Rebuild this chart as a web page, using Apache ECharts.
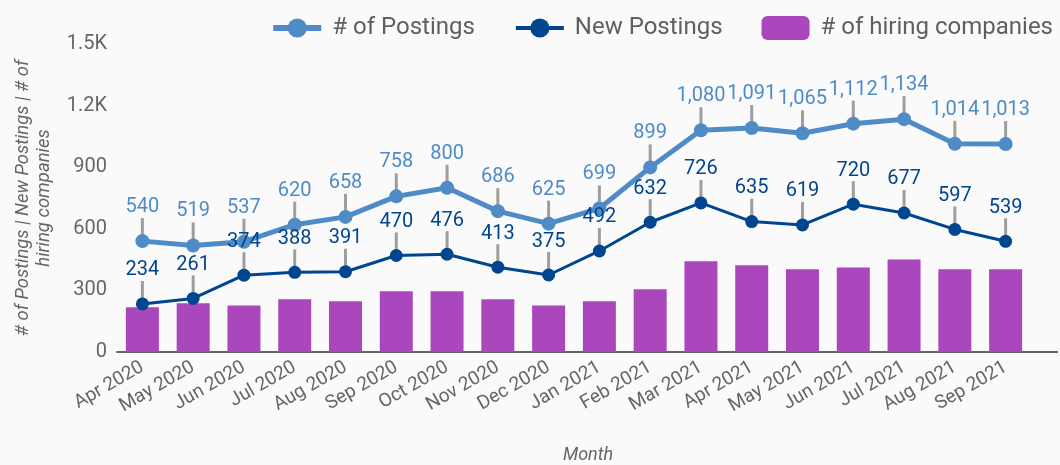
<!DOCTYPE html>
<html>
<head>
<meta charset="utf-8">
<script src="https://cdn.jsdelivr.net/npm/echarts@6/dist/echarts.min.js"></script>
<style>
  html, body { margin: 0; padding: 0; background: #fafafa; }
  #chart { width: 1060px; height: 465px; }
</style>
</head>
<body>
<div id="chart"></div>
<script>
// data
var months = ['Apr 2020', 'May 2020', 'Jun 2020', 'Jul 2020', 'Aug 2020', 'Sep 2020', 'Oct 2020',
  'Nov 2020', 'Dec 2020', 'Jan 2021', 'Feb 2021', 'Mar 2021', 'Apr 2021', 'May 2021', 'Jun 2021',
  'Jul 2021', 'Aug 2021', 'Sep 2021'];
var postings = [540, 519, 537, 620, 658, 758, 800, 686, 625, 699, 899, 1080, 1091, 1065, 1112, 1134, 1014, 1013];
var newPostings = [234, 261, 374, 388, 391, 470, 476, 413, 375, 492, 632, 726, 635, 619, 720, 677, 597, 539];
var hiringCompanies = [218, 237, 227, 257, 247, 296, 296, 257, 227, 247, 305, 442, 422, 403, 412, 451, 403, 403];
var yTickLabels = ['0', '300', '600', '900', '1.2K', '1.5K'];

var lightBlue = '#4f8bc6';
var navy = '#00458f';
var purple = '#ab47bc';
var grey = '#666666';

var myChart = echarts.init(document.getElementById('chart'));

// short grey stem from each point up to its label
function stems(values) {
  return values.map(function (v, i) { return [i, v]; });
}
function stemItem(params, api) {
  var p = api.coord([api.value(0), api.value(1)]);
  return {
    type: 'line',
    shape: { x1: p[0], y1: p[1], x2: p[0], y2: p[1] - 23 },
    style: { stroke: '#9e9e9e', lineWidth: 3 }
  };
}
function fmt(p) {
  return Number(p.value).toLocaleString('en-US');
}

myChart.setOption({
  backgroundColor: '#fafafa',
  textStyle: { fontFamily: 'Roboto' },
  animation: false,
  legend: {
    right: 2,
    top: 11,
    itemWidth: 48,
    itemHeight: 24,
    itemGap: 39,
    textStyle: { fontSize: 24, color: '#5f5f5f', padding: [0, 0, 0, 6] },
    data: [
      { name: '# of Postings', lineStyle: { width: 6 } },
      { name: 'New Postings', lineStyle: { width: 4 } },
      { name: '# of hiring companies' }
    ]
  },
  grid: { left: 117, right: 29, top: 44, bottom: 113, outerBoundsMode: 'none' },
  xAxis: {
    type: 'category',
    data: months,
    name: 'Month',
    nameLocation: 'middle',
    nameGap: 94,
    nameTextStyle: { fontSize: 18, fontStyle: 'italic', color: grey, padding: [0, 0, 0, 28] },
    axisLine: { lineStyle: { color: grey, width: 2 } },
    axisTick: { show: false },
    axisLabel: { rotate: 30, fontSize: 19, color: grey, margin: 14, interval: 0 }
  },
  yAxis: {
    type: 'value',
    min: 0,
    max: 1500,
    interval: 300,
    name: '# of Postings | New Postings | # of\nhiring companies',
    nameLocation: 'middle',
    nameGap: 62,
    nameTextStyle: { fontSize: 18.5, fontStyle: 'italic', color: grey, lineHeight: 21, align: 'center' },
    axisLine: { show: false },
    axisTick: { show: false },
    splitLine: { show: false },
    axisLabel: {
      fontSize: 20,
      color: grey,
      margin: 10,
      formatter: function (v) { return yTickLabels[Math.round(v / 300)]; }
    }
  },
  graphic: [{
    type: 'line',
    shape: { x1: 1031, y1: 352, x2: 1058, y2: 352 },
    style: { stroke: grey, lineWidth: 2 }
  }],
  series: [
    {
      name: '# of hiring companies',
      type: 'bar',
      data: hiringCompanies,
      barWidth: '65%',
      itemStyle: { color: purple },
      z: 1
    },
    {
      type: 'custom',
      data: stems(postings),
      renderItem: stemItem,
      silent: true,
      z: 2
    },
    {
      type: 'custom',
      data: stems(newPostings),
      renderItem: stemItem,
      silent: true,
      z: 2
    },
    {
      name: '# of Postings',
      type: 'line',
      data: postings,
      symbol: 'circle',
      symbolSize: 14,
      lineStyle: { color: lightBlue, width: 5 },
      itemStyle: { color: lightBlue },
      label: { show: true, position: 'top', distance: 17, fontSize: 20, color: lightBlue, formatter: fmt },
      z: 3
    },
    {
      name: 'New Postings',
      type: 'line',
      data: newPostings,
      symbol: 'circle',
      symbolSize: 13,
      lineStyle: { color: navy, width: 3 },
      itemStyle: { color: navy },
      label: { show: true, position: 'top', distance: 17, fontSize: 20, color: navy, formatter: fmt },
      z: 4
    }
  ]
});
</script>
</body>
</html>
